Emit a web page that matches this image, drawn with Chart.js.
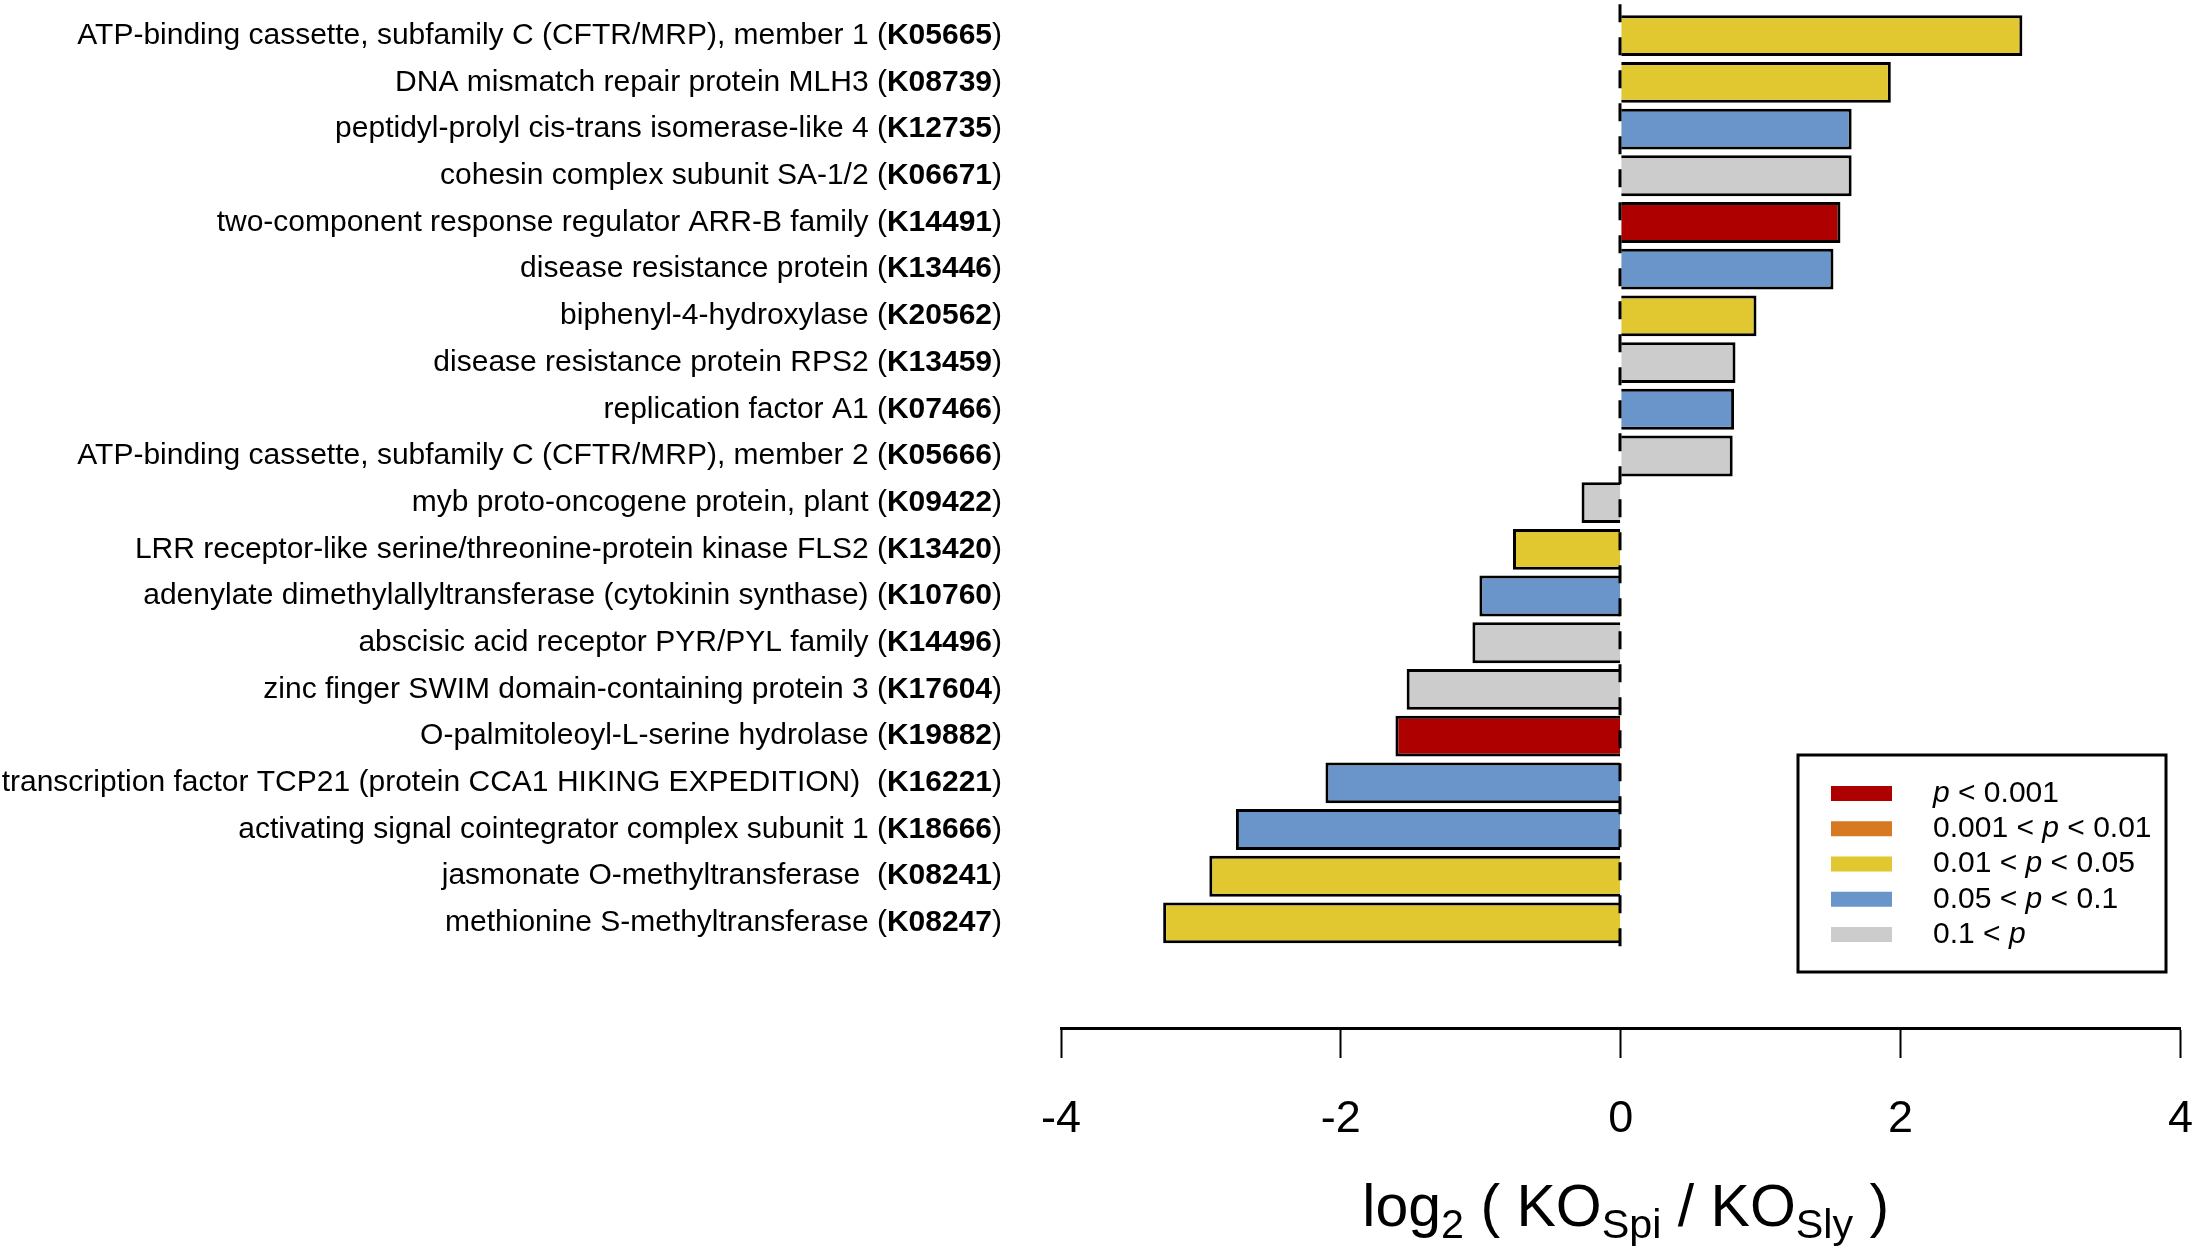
<!DOCTYPE html>
<html><head><meta charset="utf-8">
<script src="https://cdn.jsdelivr.net/npm/chart.js@4.4.1/dist/chart.umd.min.js"></script>
<style>html,body{margin:0;padding:0;background:#fff;overflow:hidden}</style>
</head><body>
<canvas id="c" width="2193" height="1248"></canvas>
<script>
const geneNames = [
  'ATP-binding cassette, subfamily C (CFTR/MRP), member 1 ',
  'DNA mismatch repair protein MLH3 ',
  'peptidyl-prolyl cis-trans isomerase-like 4 ',
  'cohesin complex subunit SA-1/2 ',
  'two-component response regulator ARR-B family ',
  'disease resistance protein ',
  'biphenyl-4-hydroxylase ',
  'disease resistance protein RPS2 ',
  'replication factor A1 ',
  'ATP-binding cassette, subfamily C (CFTR/MRP), member 2 ',
  'myb proto-oncogene protein, plant ',
  'LRR receptor-like serine/threonine-protein kinase FLS2 ',
  'adenylate dimethylallyltransferase (cytokinin synthase) ',
  'abscisic acid receptor PYR/PYL family ',
  'zinc finger SWIM domain-containing protein 3 ',
  'O-palmitoleoyl-L-serine hydrolase ',
  'transcription factor TCP21 (protein CCA1 HIKING EXPEDITION)  ',
  'activating signal cointegrator complex subunit 1 ',
  'jasmonate O-methyltransferase  ',
  'methionine S-methyltransferase '
];
const koIds = ['K05665','K08739','K12735','K06671','K14491','K13446','K20562','K13459','K07466','K05666',
               'K09422','K13420','K10760','K14496','K17604','K19882','K16221','K18666','K08241','K08247'];
const log2Ratios = [2.87, 1.93, 1.65, 1.65, 1.57, 1.52, 0.97, 0.82, 0.81, 0.80,
                    -0.28, -0.77, -1.01, -1.06, -1.53, -1.61, -2.11, -2.75, -2.94, -3.27];
// p-value class per gene: 0 p<0.001, 1 0.001-0.01, 2 0.01-0.05, 3 0.05-0.1, 4 >0.1
const pClass = [2,2,3,4,0,3,2,4,3,4, 4,2,3,4,4,0,3,3,2,2];
const legendLabels = ['p < 0.001','0.001 < p < 0.01','0.01 < p < 0.05','0.05 < p < 0.1','0.1 < p'];
const classColors = ['#AF0000','#D77823','#E2C830','#6995CB','#CCCCCC'];
const xTicks = [-4,-2,0,2,4];
const titleParts = [['log',0],['2',1],[' ( KO',0],['Spi',1],[' / KO',0],['Sly',1],[' )',0]];

const FONT = "'Liberation Sans', Arial, Helvetica, sans-serif";
const BASE = 30;

const overlay = {
  id: 'overlay',
  afterDatasetsDraw(chart) {
    const {ctx, scales:{x, y}, chartArea} = chart;
    ctx.save();
    ctx.strokeStyle = '#000';
    ctx.lineWidth = 3;
    ctx.setLineDash([18, 15]);
    const x0 = Math.round(x.getPixelForValue(0)) - 1;
    ctx.beginPath();
    ctx.moveTo(x0, y.getPixelForValue(geneNames.length - 0.5));
    ctx.lineTo(x0, chartArea.top);
    ctx.stroke();
    ctx.restore();
  },
  afterDraw(chart) {
    const {ctx, scales:{x, y}, chartArea} = chart;
    ctx.save();
    ctx.fillStyle = '#000';
    ctx.textBaseline = 'middle';
    ctx.textAlign = 'right';
    const rightX = chartArea.left - 59;
    geneNames.forEach((name, i) => {
      const py = y.getPixelForValue(i);
      let px = rightX;
      ctx.font = `${BASE}px ${FONT}`;
      ctx.fillText(')', px, py);
      px -= ctx.measureText(')').width;
      ctx.font = `bold ${BASE}px ${FONT}`;
      ctx.fillText(koIds[i], px, py);
      px -= ctx.measureText(koIds[i]).width;
      ctx.font = `${BASE}px ${FONT}`;
      ctx.fillText(name + '(', px, py);
    });

    // legend
    const lx = 1798, ly = 755, lw = 368, lh = 217;
    ctx.lineWidth = 3;
    ctx.strokeStyle = '#000';
    ctx.strokeRect(lx, ly, lw, lh);
    ctx.textAlign = 'left';
    legendLabels.forEach((lab, k) => {
      const cy = ly + 38.5 + k * 35.25;
      ctx.fillStyle = classColors[k];
      ctx.fillRect(lx + 33, cy - 7.5, 61, 15);
      ctx.fillStyle = '#000';
      let tx = lx + 135;
      lab.split(/(p)/).forEach(pt => {
        if (!pt) return;
        ctx.font = (pt === 'p' ? 'italic ' : '') + `${BASE}px ${FONT}`;
        ctx.fillText(pt, tx, cy);
        tx += ctx.measureText(pt).width;
      });
    });

    // x title with subscripts
    const tSize = 59, sSize = tSize * 0.7;
    let total = 0;
    titleParts.forEach(([t, sub]) => {
      ctx.font = `${sub ? sSize : tSize}px ${FONT}`;
      total += ctx.measureText(t).width;
    });
    let tx = (chartArea.left + chartArea.right) / 2 + 5 - total / 2;
    const base = 1226;
    ctx.textBaseline = 'alphabetic';
    titleParts.forEach(([t, sub]) => {
      ctx.font = `${sub ? sSize : tSize}px ${FONT}`;
      ctx.fillText(t, tx, sub ? base + 12 : base);
      tx += ctx.measureText(t).width;
    });
    ctx.restore();
  }
};

new Chart(document.getElementById('c'), {
  type: 'bar',
  data: {
    datasets: [{
      data: log2Ratios.map((v, i) => ({x: v, y: i})),
      backgroundColor: pClass.map(c => classColors[c]),
      borderColor: '#000',
      borderWidth: 3,
      borderSkipped: 'start',
      barPercentage: 0.875,
      categoryPercentage: 1
    }]
  },
  options: {
    indexAxis: 'y',
    responsive: false,
    devicePixelRatio: 1,
    animation: false,
    events: [],
    layout: {padding: {left: 1061, right: 12, top: 0, bottom: 0}},
    plugins: {legend: {display: false}, tooltip: {enabled: false}},
    scales: {
      y: {
        type: 'linear',
        reverse: true,
        display: false,
        offset: false,
        min: -0.764,
        max: 21.25,
        ticks: {stepSize: 1, includeBounds: false}
      },
      x: {
        type: 'linear',
        min: xTicks[0],
        max: xTicks[xTicks.length - 1],
        afterBuildTicks(s) { s.ticks = xTicks.map(v => ({value: v})); },
        afterFit(s) { s.height = 220; },
        border: {display: true, color: '#000', width: 3},
        grid: {display: true, drawOnChartArea: false, drawTicks: true, tickLength: 30, tickWidth: 2, tickColor: '#000'},
        ticks: {color: '#000', font: {size: BASE * 1.5, family: FONT, lineHeight: '124px'}, padding: 0, maxRotation: 0}
      }
    }
  },
  plugins: [overlay]
});
</script>
</body></html>
